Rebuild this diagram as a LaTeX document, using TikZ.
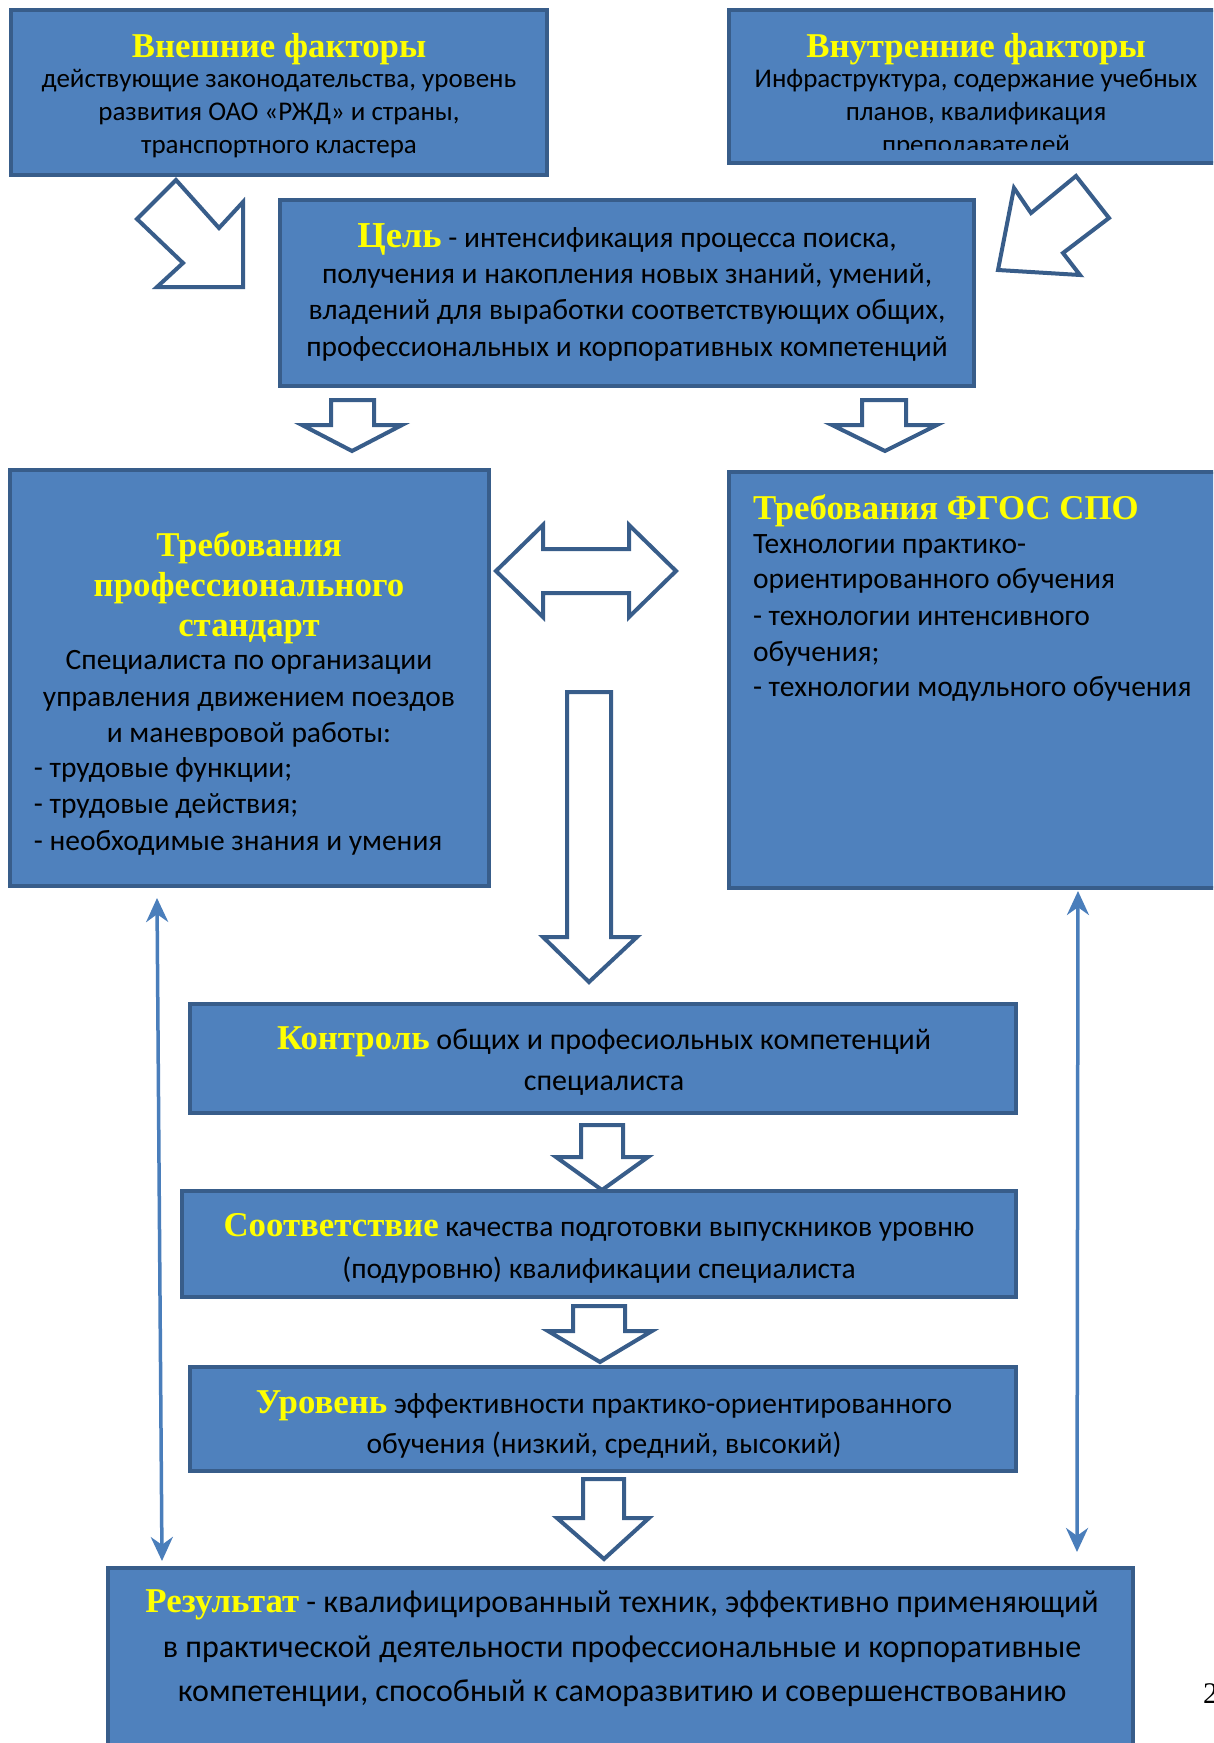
\documentclass[tikz,border=0pt]{standalone}
\usepackage{fontspec}
\setmainfont{Carlito}
\newfontfamily\hdfont{Liberation Serif}
\usetikzlibrary{arrows.meta}
\definecolor{boxc}{HTML}{4F81BD}
\definecolor{bordc}{HTML}{385D8A}
\definecolor{hy}{HTML}{FFFF00}
\definecolor{arrc}{HTML}{4A7EBB}
\newcommand\fs[1]{\fontsize{#1}{#1}\selectfont}
\newcommand\hdr[2][34.8]{{\hdfont\bfseries\color{hy}\fontsize{#1}{#1}\selectfont #2}}
% block arrow pointing down: shaftL, shaftR, top, neck, headL, headR, tipx, tipy
\newcommand\dnarr[8]{\draw[blk] (#1,#3) -- (#2,#3) -- (#2,#4) -- (#6,#4) -- (#7,#8) -- (#5,#4) -- (#1,#4) -- cycle;}
\begin{document}
\begin{tikzpicture}[x=1pt,y=-1pt,
  box/.style={draw=bordc, fill=boxc, line width=4.5pt, inner sep=0pt, outer sep=0pt, anchor=north west},
  blk/.style={draw=bordc, fill=white, line width=4pt, line join=miter},
  link/.style={draw=arrc, line width=3.5pt, {Stealth[length=24pt,width=22pt]}-{Stealth[length=24pt,width=22pt]}},
  tx/.style={inner sep=0pt, outer sep=0pt, text=black, anchor=base},
  txl/.style={tx, anchor=base west},
  fa/.style={font=\fs{27}},
  fb/.style={font=\fs{29.5}},
  fd/.style={font=\fs{30}},
  fc/.style={font=\fs{32}}]
\useasboundingbox (0,0) rectangle (1213,1743);
\clip (0,0) rectangle (1213,1743);
\fill[white] (0,0) rectangle (1213,1743);

% ---------- boxes ----------
\node[box, minimum width=536pt, minimum height=165pt] (ext) at (11,10) {};
\node[box, minimum width=496pt, minimum height=153pt] (int) at (729,10) {};
\node[box, minimum width=694pt, minimum height=186pt] (goal) at (280,200) {};
\node[box, minimum width=479pt, minimum height=416pt] (prof) at (10,470) {};
\node[box, minimum width=496pt, minimum height=416pt] (fgos) at (729,472) {};
\node[box, minimum width=826pt, minimum height=109pt] (ctrl) at (190,1004) {};
\node[box, minimum width=834pt, minimum height=106pt] (corr) at (182,1191) {};
\node[box, minimum width=826pt, minimum height=104pt] (lvl) at (190,1367) {};
\node[box, minimum width=1025pt, minimum height=200pt] (res) at (108,1568) {};

% ---------- texts ----------
\node[tx] (ext1) at (279,57) {\hdr{Внешние факторы}};
\node[tx,fa] (ext2) at (279,87) {действующие законодательства, уровень};
\node[tx,fa] (ext3) at (279,120) {развития ОАО «РЖД» и страны,};
\node[tx,fa] (ext4) at (279,153) {транспортного кластера};

\node[tx] (int1) at (976,57) {\hdr{Внутренние факторы}};
\node[tx,fa] (int2) at (976,87) {Инфраструктура, содержание учебных};
\node[tx,fa] (int3) at (976,120) {планов, квалификация};
\begin{scope}
\clip (729,10) rectangle (1225,149);
\node[tx,fa] (int4) at (976,153) {преподавателей};
\end{scope}

\node[tx,fb] (goal1) at (627,247) {\hdr[36.5]{Цель} - интенсификация процесса поиска,};
\node[tx,fb] (goal2) at (627,283) {получения и накопления новых знаний, умений,};
\node[tx,fb] (goal3) at (627,319) {владений для выработки соответствующих общих,};
\node[tx,fb] (goal4) at (627,356) {профессиональных и корпоративных компетенций};

\node[tx] (prof1) at (249,556) {\hdr{Требования}};
\node[tx] (prof2) at (249,596) {\hdr{профессионального}};
\node[tx] (prof3) at (249,636) {\hdr{стандарт}};
\node[tx,fb] (prof4) at (249,669) {Специалиста по организации};
\node[tx,fb] (prof5) at (249,706) {управления движением поездов};
\node[tx,fb] (prof6) at (249,742) {и маневровой работы:};
\node[txl,fb] (prof7) at (34,777) {- трудовые функции;};
\node[txl,fb] (prof8) at (34,813) {- трудовые действия;};
\node[txl,fb] (prof9) at (34,850) {- необходимые знания и умения};

\node[txl] (fgos1) at (753,519) {\hdr{Требования ФГОС СПО}};
\node[txl,fb] (fgos2) at (753,553) {Технологии практико-};
\node[txl,fb] (fgos3) at (753,588) {ориентированного обучения};
\node[txl,fb] (fgos4) at (753,625) {- технологии интенсивного};
\node[txl,fb] (fgos5) at (753,661) {обучения;};
\node[txl,fb] (fgos6) at (753,696) {- технологии модульного обучения};

\node[tx,fd] (ctrl1) at (604,1049) {\hdr{Контроль} общих и професиольных компетенций};
\node[tx,fd] (ctrl2) at (604,1090) {специалиста};

\node[tx,fb] (corr1) at (599,1236) {\hdr{Соответствие} качества подготовки выпускников уровню};
\node[tx,fb] (corr2) at (599,1278) {(подуровню) квалификации специалиста};

\node[tx,fb] (lvl1) at (604,1413) {\hdr{Уровень} эффективности практико-ориентированного};
\node[tx,fb] (lvl2) at (604,1453) {обучения (низкий, средний, высокий)};

\node[tx,fc] (res1) at (622,1612) {\hdr{Результат} - квалифицированный техник, эффективно применяющий};
\node[tx,fc] (res2) at (622,1657) {в практической деятельности профессиональные и корпоративные};
\node[tx,fc] (res3) at (622,1701) {компетенции, способный к саморазвитию и совершенствованию};

\node[txl, font={\hdfont\fs{30}}] (pg) at (1203,1703) {2};

% ---------- block arrows ----------
\draw[blk] (176,180) -- (137,219) -- (183,263) -- (157,287) -- (243,287) -- (243,202) -- (219,228) -- cycle;
\draw[blk] (1076,176) -- (1109,218) -- (1063,253) -- (1080,275) -- (998,270) -- (1014,188) -- (1031,213) -- cycle;
\dnarr{331}{374}{400}{425}{302}{402}{352}{451}
\dnarr{862}{906}{400}{425}{832}{937}{885}{451}
\draw[blk] (496,571) -- (543,525) -- (543,549) -- (629,549) -- (629,525) -- (676,571) -- (629,617) -- (629,593) -- (543,593) -- (543,617) -- cycle;
\dnarr{567}{611}{692}{937}{543}{637}{589}{982}
\dnarr{581}{623}{1125}{1157}{556}{648}{602}{1190}
\dnarr{573}{625}{1306}{1331}{548}{652}{600}{1362}
\dnarr{583}{624}{1479}{1518}{557}{649}{604}{1559}

% ---------- thin two-way links ----------
\coordinate (lt) at (157,898);
\coordinate (lb) at (162,1561);
\coordinate (rt) at (1078,891);
\coordinate (rb) at (1077,1552);
\draw[link] (lt) -- (lb);
\draw[link] (rt) -- (rb);
\end{tikzpicture}
\end{document}
